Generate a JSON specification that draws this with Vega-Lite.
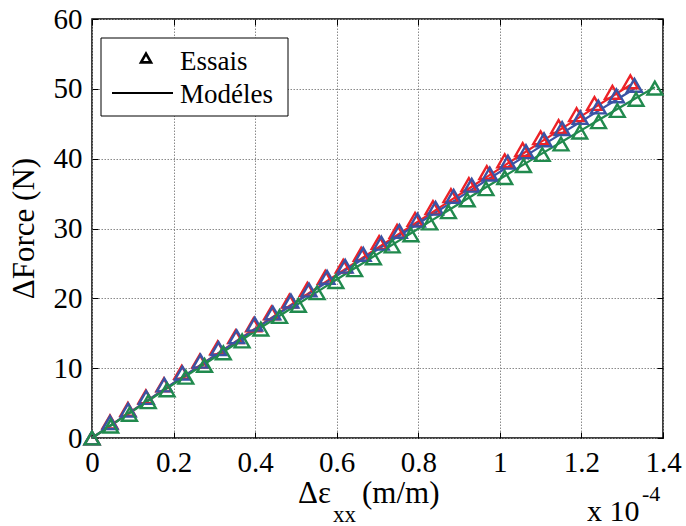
{
  "$schema": "https://vega.github.io/schema/vega-lite/v6.json",
  "width": 571,
  "height": 419,
  "autosize": "none",
  "padding": {"left": 92, "top": 19, "right": 23, "bottom": 88},
  "background": "white",
  "config": {
    "font": "Liberation Serif, DejaVu Serif, serif",
    "view": {"stroke": "black", "strokeWidth": 1.5},
    "axis": {
      "labelFont": "Liberation Serif, DejaVu Serif, serif",
      "labelFontSize": 29,
      "labelColor": "black",
      "titleFont": "Liberation Serif, DejaVu Serif, serif",
      "titleColor": "black",
      "titleFontWeight": "normal",
      "domain": false,
      "tickColor": "black",
      "tickSize": -6,
      "tickWidth": 1,
      "gridColor": "#8a8a8a",
      "gridDash": [1.5, 1.5],
      "gridWidth": 1
    },
    "text": {"font": "Liberation Serif, DejaVu Serif, serif"}
  },
  "data": {
    "values": [
      {"s": "r", "x": 0, "y": 0, "e": 0},
      {"s": "r", "x": 0.044, "y": 1.74, "e": 2.3},
      {"s": "r", "x": 0.088, "y": 3.47, "e": 4.1},
      {"s": "r", "x": 0.132, "y": 5.2, "e": 5.9},
      {"s": "r", "x": 0.176, "y": 6.92, "e": 7.6},
      {"s": "r", "x": 0.22, "y": 8.65, "e": 9.4},
      {"s": "r", "x": 0.264, "y": 10.37, "e": 11.0},
      {"s": "r", "x": 0.308, "y": 12.08, "e": 12.9},
      {"s": "r", "x": 0.352, "y": 13.79, "e": 14.5},
      {"s": "r", "x": 0.396, "y": 15.5, "e": 16.2},
      {"s": "r", "x": 0.44, "y": 17.21, "e": 17.9},
      {"s": "r", "x": 0.484, "y": 18.91, "e": 19.6},
      {"s": "r", "x": 0.528, "y": 20.61, "e": 21.3},
      {"s": "r", "x": 0.572, "y": 22.3, "e": 23.0},
      {"s": "r", "x": 0.616, "y": 23.99, "e": 24.6},
      {"s": "r", "x": 0.66, "y": 25.68, "e": 26.3},
      {"s": "r", "x": 0.704, "y": 27.36, "e": 28.0},
      {"s": "r", "x": 0.748, "y": 29.04, "e": 29.6},
      {"s": "r", "x": 0.792, "y": 30.72, "e": 31.3},
      {"s": "r", "x": 0.836, "y": 32.39, "e": 33.0},
      {"s": "r", "x": 0.88, "y": 34.06, "e": 34.7},
      {"s": "r", "x": 0.924, "y": 35.73, "e": 36.3},
      {"s": "r", "x": 0.968, "y": 37.39, "e": 38.0},
      {"s": "r", "x": 1.012, "y": 39.05, "e": 39.7},
      {"s": "r", "x": 1.056, "y": 40.71, "e": 41.3},
      {"s": "r", "x": 1.1, "y": 42.36, "e": 43.0},
      {"s": "r", "x": 1.144, "y": 44.01, "e": 44.6},
      {"s": "r", "x": 1.188, "y": 45.66, "e": 46.3},
      {"s": "r", "x": 1.232, "y": 47.3, "e": 47.9},
      {"s": "r", "x": 1.276, "y": 48.94, "e": 49.5},
      {"s": "r", "x": 1.32, "y": 50.57, "e": 51.0},
      {"s": "b", "x": 0, "y": 0, "e": 0},
      {"s": "b", "x": 0.0443, "y": 1.75, "e": 2.2},
      {"s": "b", "x": 0.0887, "y": 3.5, "e": 4.0},
      {"s": "b", "x": 0.133, "y": 5.24, "e": 5.8},
      {"s": "b", "x": 0.1773, "y": 6.98, "e": 7.6},
      {"s": "b", "x": 0.2217, "y": 8.7, "e": 9.3},
      {"s": "b", "x": 0.266, "y": 10.43, "e": 11.0},
      {"s": "b", "x": 0.3103, "y": 12.15, "e": 12.8},
      {"s": "b", "x": 0.3547, "y": 13.86, "e": 14.5},
      {"s": "b", "x": 0.399, "y": 15.56, "e": 16.3},
      {"s": "b", "x": 0.4433, "y": 17.26, "e": 17.9},
      {"s": "b", "x": 0.4877, "y": 18.96, "e": 19.6},
      {"s": "b", "x": 0.532, "y": 20.64, "e": 21.2},
      {"s": "b", "x": 0.5763, "y": 22.32, "e": 23.0},
      {"s": "b", "x": 0.6207, "y": 24.0, "e": 24.6},
      {"s": "b", "x": 0.665, "y": 25.67, "e": 26.3},
      {"s": "b", "x": 0.7093, "y": 27.34, "e": 27.9},
      {"s": "b", "x": 0.7537, "y": 28.99, "e": 29.6},
      {"s": "b", "x": 0.798, "y": 30.65, "e": 31.2},
      {"s": "b", "x": 0.8423, "y": 32.29, "e": 32.9},
      {"s": "b", "x": 0.8867, "y": 33.93, "e": 34.6},
      {"s": "b", "x": 0.931, "y": 35.57, "e": 36.2},
      {"s": "b", "x": 0.9753, "y": 37.2, "e": 37.8},
      {"s": "b", "x": 1.0197, "y": 38.82, "e": 39.5},
      {"s": "b", "x": 1.064, "y": 40.44, "e": 41.0},
      {"s": "b", "x": 1.1083, "y": 42.05, "e": 42.7},
      {"s": "b", "x": 1.1527, "y": 43.65, "e": 44.3},
      {"s": "b", "x": 1.197, "y": 45.25, "e": 45.9},
      {"s": "b", "x": 1.2413, "y": 46.85, "e": 47.4},
      {"s": "b", "x": 1.2857, "y": 48.43, "e": 49.0},
      {"s": "b", "x": 1.33, "y": 50.02, "e": 50.5},
      {"s": "g", "x": 0, "y": 0, "e": 0},
      {"s": "g", "x": 0.046, "y": 1.79, "e": 1.7},
      {"s": "g", "x": 0.092, "y": 3.56, "e": 3.4},
      {"s": "g", "x": 0.138, "y": 5.33, "e": 5.2},
      {"s": "g", "x": 0.184, "y": 7.1, "e": 6.9},
      {"s": "g", "x": 0.23, "y": 8.85, "e": 8.7},
      {"s": "g", "x": 0.276, "y": 10.6, "e": 10.4},
      {"s": "g", "x": 0.322, "y": 12.34, "e": 12.2},
      {"s": "g", "x": 0.368, "y": 14.07, "e": 13.9},
      {"s": "g", "x": 0.414, "y": 15.8, "e": 15.6},
      {"s": "g", "x": 0.46, "y": 17.51, "e": 17.4},
      {"s": "g", "x": 0.506, "y": 19.22, "e": 19.0},
      {"s": "g", "x": 0.552, "y": 20.92, "e": 20.8},
      {"s": "g", "x": 0.598, "y": 22.62, "e": 22.4},
      {"s": "g", "x": 0.644, "y": 24.31, "e": 24.1},
      {"s": "g", "x": 0.69, "y": 25.98, "e": 25.8},
      {"s": "g", "x": 0.736, "y": 27.66, "e": 27.5},
      {"s": "g", "x": 0.782, "y": 29.32, "e": 29.1},
      {"s": "g", "x": 0.828, "y": 30.98, "e": 30.8},
      {"s": "g", "x": 0.874, "y": 32.62, "e": 32.4},
      {"s": "g", "x": 0.92, "y": 34.26, "e": 34.1},
      {"s": "g", "x": 0.966, "y": 35.9, "e": 35.7},
      {"s": "g", "x": 1.012, "y": 37.52, "e": 37.3},
      {"s": "g", "x": 1.058, "y": 39.14, "e": 39.0},
      {"s": "g", "x": 1.104, "y": 40.75, "e": 40.6},
      {"s": "g", "x": 1.15, "y": 42.35, "e": 42.1},
      {"s": "g", "x": 1.196, "y": 43.95, "e": 43.8},
      {"s": "g", "x": 1.242, "y": 45.54, "e": 45.3},
      {"s": "g", "x": 1.288, "y": 47.12, "e": 46.9},
      {"s": "g", "x": 1.334, "y": 48.69, "e": 48.5},
      {"s": "g", "x": 1.38, "y": 50.25, "e": 50.1}
    ]
  },
  "resolve": {"axis": {"x": "independent", "y": "independent"}},
  "layer": [
    {
      "mark": {"type": "line", "strokeWidth": 2.2},
      "encoding": {
        "x": {
          "field": "x", "type": "quantitative",
          "scale": {"domain": [0, 1.4], "nice": false, "zero": false},
          "axis": {"orient": "bottom", "values": [0, 0.2, 0.4, 0.6, 0.8, 1, 1.2, 1.4], "format": ".1~f", "title": null, "labelPadding": 16, "grid": true, "labelFlush": false}
        },
        "y": {
          "field": "y", "type": "quantitative",
          "scale": {"domain": [0, 60], "nice": false, "zero": false},
          "axis": {"orient": "left", "values": [0, 10, 20, 30, 40, 50, 60], "grid": true, "labelPadding": 16, "title": "ΔForce (N)", "titleFontSize": 31, "titleAngle": 270, "titleX": -68, "titleY": 209, "titleAlign": "center", "titleBaseline": "middle", "labelFlush": false}
        },
        "color": {
          "field": "s", "type": "nominal",
          "scale": {"domain": ["r", "b", "g"], "range": ["#ec2227", "#3a53a4", "#218a4e"]},
          "legend": null
        }
      }
    },
    {
      "mark": {"type": "point", "shape": "triangle-up", "filled": false, "size": 220, "strokeWidth": 2.4, "opacity": 1},
      "encoding": {
        "x": {
          "field": "x", "type": "quantitative",
          "scale": {"domain": [0, 1.4], "nice": false, "zero": false},
          "axis": {"orient": "top", "values": [0, 0.2, 0.4, 0.6, 0.8, 1, 1.2, 1.4], "labels": false, "grid": false, "title": null}
        },
        "y": {
          "field": "e", "type": "quantitative",
          "scale": {"domain": [0, 60], "nice": false, "zero": false},
          "axis": {"orient": "right", "values": [0, 10, 20, 30, 40, 50, 60], "labels": false, "grid": false, "title": null}
        },
        "color": {"field": "s", "type": "nominal", "legend": null}
      }
    },
    {
      "data": {"values": [{}]},
      "mark": {"type": "rect", "fill": "white", "stroke": "black", "strokeWidth": 1},
      "encoding": {"x": {"value": 9}, "x2": {"value": 196}, "y": {"value": 19}, "y2": {"value": 97}}
    },
    {
      "data": {"values": [{}]},
      "mark": {"type": "point", "shape": "triangle-up", "filled": false, "size": 100, "strokeWidth": 2.6, "color": "black", "opacity": 1},
      "encoding": {"x": {"value": 54}, "y": {"value": 39}}
    },
    {
      "data": {"values": [{}]},
      "mark": {"type": "rule", "stroke": "black", "strokeWidth": 2.2},
      "encoding": {"x": {"value": 20}, "x2": {"value": 81}, "y": {"value": 74}, "y2": {"value": 74}}
    },
    {
      "data": {"values": [{}]},
      "mark": {"type": "text", "text": "Essais", "align": "left", "baseline": "alphabetic", "fontSize": 27, "color": "black"},
      "encoding": {"x": {"value": 88}, "y": {"value": 51}}
    },
    {
      "data": {"values": [{}]},
      "mark": {"type": "text", "text": "Modéles", "align": "left", "baseline": "alphabetic", "fontSize": 27, "color": "black"},
      "encoding": {"x": {"value": 88}, "y": {"value": 84}}
    },
    {
      "data": {"values": [{}]},
      "mark": {"type": "text", "text": "Δε", "align": "left", "baseline": "alphabetic", "fontSize": 31, "color": "black"},
      "encoding": {"x": {"value": 206}, "y": {"value": 484}}
    },
    {
      "data": {"values": [{}]},
      "mark": {"type": "text", "text": "xx", "align": "left", "baseline": "alphabetic", "fontSize": 23, "color": "black"},
      "encoding": {"x": {"value": 241}, "y": {"value": 503}}
    },
    {
      "data": {"values": [{}]},
      "mark": {"type": "text", "text": "(m/m)", "align": "left", "baseline": "alphabetic", "fontSize": 31, "color": "black"},
      "encoding": {"x": {"value": 270}, "y": {"value": 484}}
    },
    {
      "data": {"values": [{}]},
      "mark": {"type": "text", "text": "x 10", "align": "left", "baseline": "alphabetic", "fontSize": 30, "color": "black"},
      "encoding": {"x": {"value": 495}, "y": {"value": 502}}
    },
    {
      "data": {"values": [{}]},
      "mark": {"type": "text", "text": "-4", "align": "left", "baseline": "alphabetic", "fontSize": 22, "color": "black"},
      "encoding": {"x": {"value": 550}, "y": {"value": 482}}
    }
  ]
}
